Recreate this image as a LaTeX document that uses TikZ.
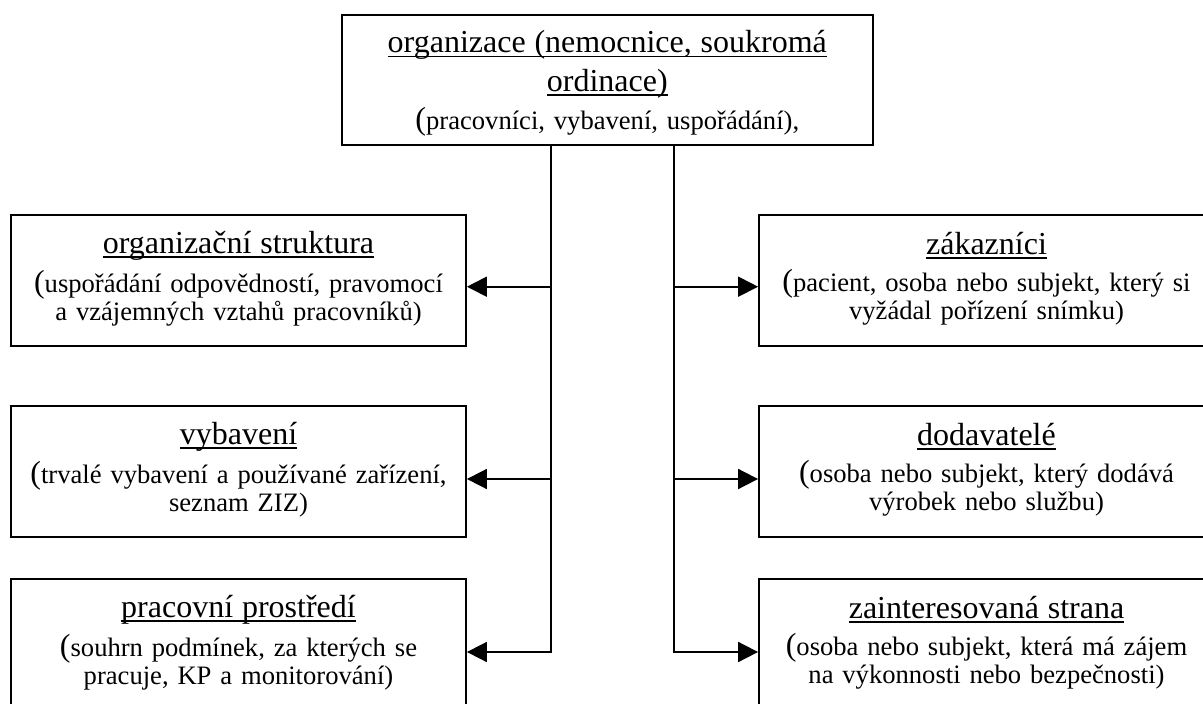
\documentclass[tikz,border=0pt]{standalone}
\usepackage{fontspec}
\setmainfont{Liberation Serif}
\usepackage{tikz}
\usetikzlibrary{arrows.meta}

\newcommand{\hd}{\fontsize{32pt}{37pt}\selectfont}
\newcommand{\bd}{\fontsize{26.6pt}{28pt}\selectfont}
\newcommand{\ulin}[1]{\leavevmode\setbox0=\hbox{#1}\rlap{\rule[-4.5pt]{\wd0}{1.3pt}}\box0}
\newcommand{\lo}{\rule[-10pt]{0pt}{0pt}}

\tikzset{
  card/.style={draw,line width=1.8pt,rectangle,minimum width=455pt,minimum height=131pt,
    text width=440pt,inner sep=0pt,align=center,font=\bd},
  feed/.style={line width=1.8pt},
  arr/.style={feed,-{Triangle[length=20pt,width=20pt]}}
}

\begin{document}
\begin{tikzpicture}[x=1pt,y=-1pt]
\useasboundingbox (0,0) rectangle (1203,704);
\clip (0,0) rectangle (1203,704);
\node[card,minimum width=531pt,minimum height=130pt,text width=510pt] (org) at (607.3,79.9)
  {\rule{0pt}{29pt}{\hd\ulin{organizace (nemocnice, soukromá}}\\[8pt]{\hd\ulin{ordinace)}}\\[8pt]{\hd(}pracovníci, vybavení, uspořádání),};
\node[card] (struktura) at (238.5,280.5)
  {{\hd\ulin{organizační struktura}}\\[9pt]{\hd(}uspořádání odpovědností, pravomocí\\a vzájemných vztahů pracovníků)\lo};
\node[card] (vybaveni) at (238.5,471.5)
  {{\hd\ulin{vybavení}}\\[9pt]{\hd(}trvalé vybavení a používané zařízení,\\seznam ZIZ)\lo};
\node[card] (prostredi) at (238.5,644.5)
  {{\hd\ulin{pracovní prostředí}}\\[9pt]{\hd(}souhrn podmínek, za kterých se\\pracuje, KP a monitorování)\lo};
\node[card] (zakaznici) at (986.5,280.5)
  {{\hd\ulin{zákazníci}}\\[9pt]{\hd(}pacient, osoba nebo subjekt, který si\\vyžádal pořízení snímku)\lo};
\node[card] (dodavatele) at (986.5,471.5)
  {{\hd\ulin{dodavatelé}}\\[9pt]{\hd(}osoba nebo subjekt, který dodává\\výrobek nebo službu)\lo};
\node[card] (strana) at (986.5,644.5)
  {{\hd\ulin{zainteresovaná strana}}\\[9pt]{\hd(}osoba nebo subjekt, která má zájem\\na výkonnosti nebo bezpečnosti)\lo};
\foreach \n/\y in {1/286.7,2/479,3/652}{
  \coordinate (tl\n) at (551,\y);
  \coordinate (tr\n) at (674,\y);
}
\draw[arr] (org.south -| tl1) -- (tl3) -- (tl3 -| prostredi.east);
\draw[arr] (org.south -| tr1) -- (tr3) -- (tr3 -| strana.west);
\foreach \n/\a/\b in {1/struktura/zakaznici,2/vybaveni/dodavatele}{
  \draw[arr] (tl\n) -- (tl\n -| \a.east);
  \draw[arr] (tr\n) -- (tr\n -| \b.west);
}
\end{tikzpicture}
\end{document}
